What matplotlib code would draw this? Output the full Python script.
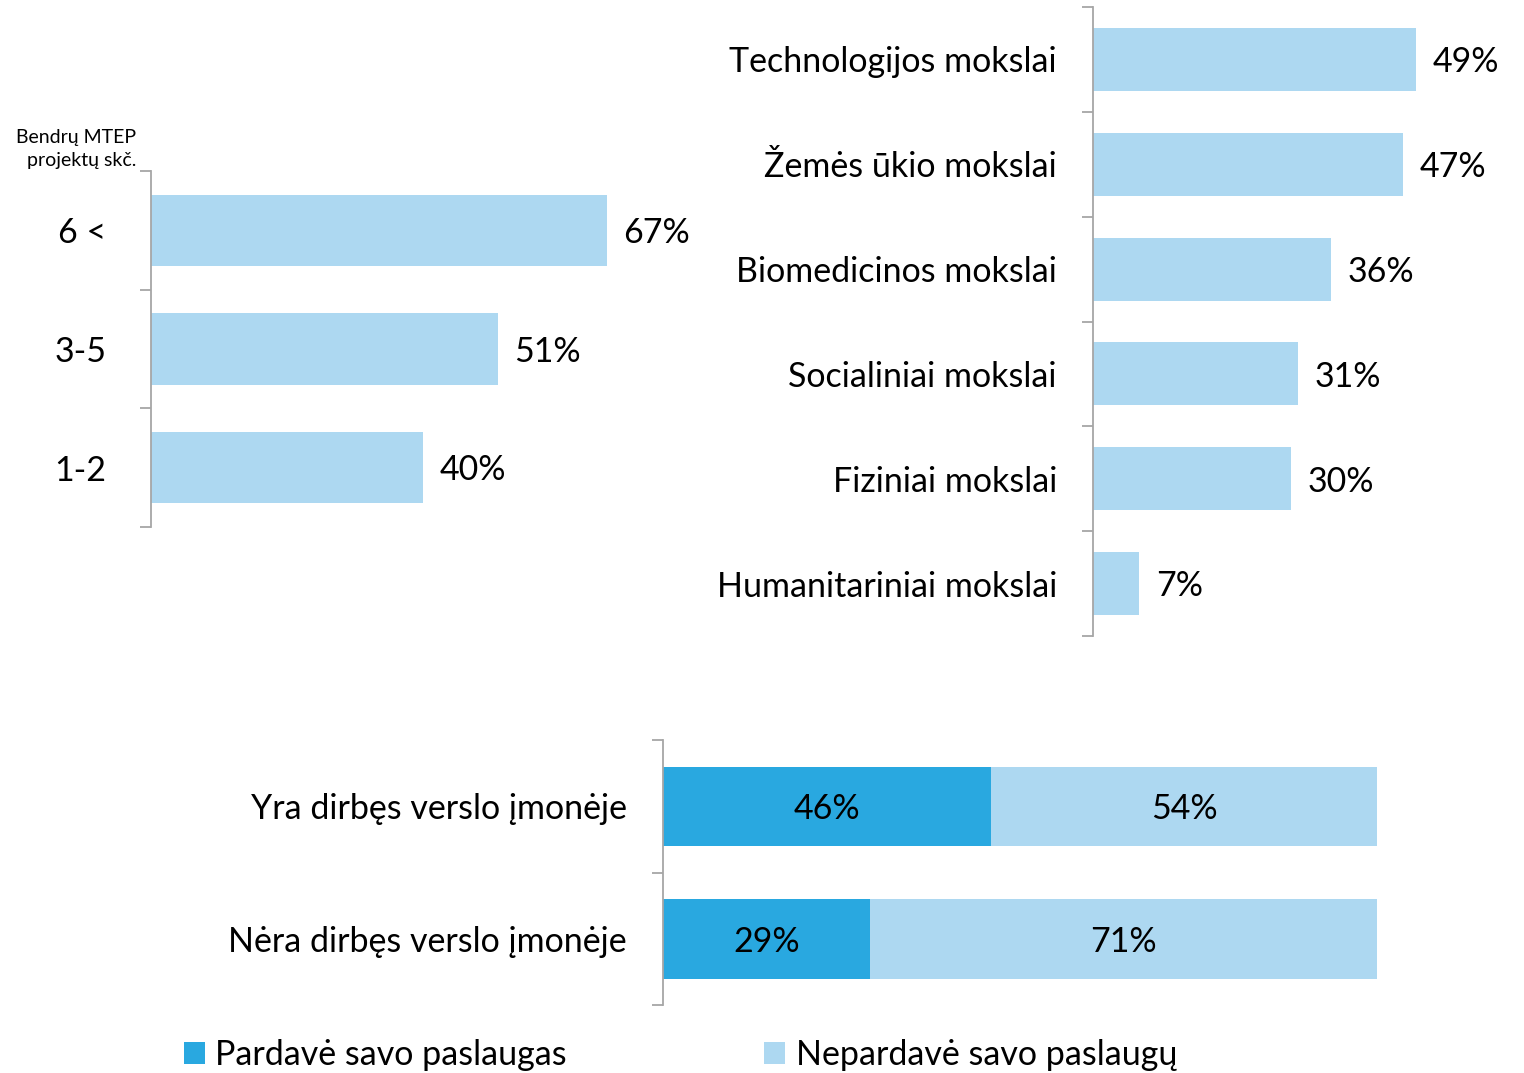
import numpy as np
import matplotlib.pyplot as plt

plt.rcParams['font.family'] = ['Lato', 'DejaVu Sans']

# duomenys
proj_labels = ['6 <', '3-5', '1-2']
proj_values = [67, 51, 40]

field_labels = ['Technologijos mokslai', 'Žemės ūkio mokslai', 'Biomedicinos mokslai',
                'Socialiniai mokslai', 'Fiziniai mokslai', 'Humanitariniai mokslai']
field_values = [49, 47, 36, 31, 30, 7]

work_labels = ['Yra dirbęs verslo įmonėje', 'Nėra dirbęs verslo įmonėje']
sold = [46, 29]
not_sold = [54, 71]
legend_labels = ['Pardavė savo paslaugas', 'Nepardavė savo paslaugų']

light = '#ADD8F1'
dark = '#29A8E0'
grey = '#A6A6A6'
W, H = 1524, 1073
fs = 24.5


def style_axis(ax, labels, pad):
    n = len(labels)
    ax.set_ylim(n - 0.5, -0.5)
    ax.set_yticks(np.arange(n))
    ax.set_yticklabels(labels, fontsize=fs)
    ax.set_yticks(np.arange(n + 1) - 0.5, minor=True)
    ax.tick_params(axis='y', which='major', length=0, pad=pad)
    ax.tick_params(axis='y', which='minor', length=8, width=1.3, color=grey)
    for s in ['top', 'right', 'bottom']:
        ax.spines[s].set_visible(False)
    ax.spines['left'].set_color(grey)
    ax.spines['left'].set_linewidth(1.3)
    ax.set_xticks([])


fig = plt.figure(figsize=(W / 100, H / 100), dpi=100)

# projektu skaicius
ax1 = fig.add_axes([151 / W, 1 - 527 / H, 680 / W, 356 / H])
y = np.arange(len(proj_values))
ax1.barh(y, proj_values, height=0.6, color=light)
ax1.set_xlim(0, 100)
style_axis(ax1, proj_labels, 32)
for i, v in enumerate(proj_values):
    ax1.annotate(f'{v}%', (v, i), xytext=(12, -2), textcoords='offset points',
                 va='center', ha='left', fontsize=fs)
fig.text(136 / W, 1 - 149 / H, 'Bendrų MTEP\nprojektų skč.', ha='right', va='center',
         fontsize=14, linespacing=1.45)

# mokslo sritys
ax2 = fig.add_axes([1093 / W, 1 - 636 / H, 60 * 6.6 / W, 629 / H])
y = np.arange(len(field_values))
ax2.barh(y, field_values, height=0.6, color=light)
ax2.set_xlim(0, 60)
style_axis(ax2, field_labels, 26)
for i, v in enumerate(field_values):
    ax2.annotate(f'{v}%', (v, i), xytext=(12, -2), textcoords='offset points',
                 va='center', ha='left', fontsize=fs)

# darbas versle
ax3 = fig.add_axes([663 / W, 1 - 1005 / H, 714 / W, 265 / H])
y = np.arange(len(sold))
b1 = ax3.barh(y, sold, height=0.6, color=dark, label=legend_labels[0])
b2 = ax3.barh(y, not_sold, left=sold, height=0.6, color=light, label=legend_labels[1])
ax3.set_xlim(0, 100)
style_axis(ax3, work_labels, 26)
for i in range(len(sold)):
    ax3.annotate(f'{sold[i]}%', (sold[i] / 2, i), xytext=(0, -2), textcoords='offset points',
                 ha='center', va='center', fontsize=fs)
    ax3.annotate(f'{not_sold[i]}%', (sold[i] + not_sold[i] / 2, i), xytext=(0, -2),
                 textcoords='offset points', ha='center', va='center', fontsize=fs)

fig.legend(handles=[b1, b2], labels=legend_labels, loc='center left',
           bbox_to_anchor=(184 / W, 1 - 1055 / H), ncol=2, frameon=False,
           fontsize=fs, handlelength=0.62, handleheight=0.62, handletextpad=0.3,
           columnspacing=5.8, borderpad=0, borderaxespad=0)

fig.savefig('out.png', dpi=100)
